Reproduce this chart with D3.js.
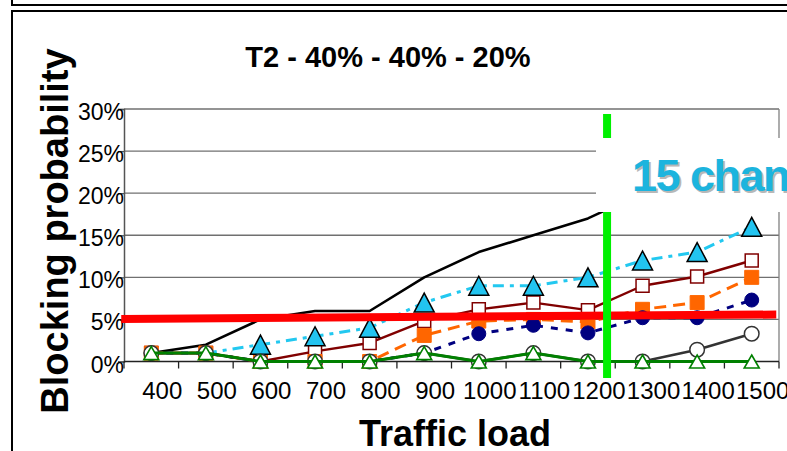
<!DOCTYPE html>
<html>
<head>
<meta charset="utf-8">
<script src="https://cdn.jsdelivr.net/npm/d3@7"></script>
<style>
  html, body { margin: 0; padding: 0; background: #fff; }
  svg { display: block; }
  text { font-family: "Liberation Sans", Arial, sans-serif; }
</style>
</head>
<body>
<svg id="chart" width="787" height="451"></svg>
<script>
// Traffic load categories and axis ticks
const loads = [400, 500, 600, 700, 800, 900, 1000, 1100, 1200, 1300, 1400, 1500];
const yTicks = [0, 5, 10, 15, 20, 25, 30];

// Blocking probability (%) per traffic load
const blockingTotal   = [1, 2, 5, 6, 6, 10, 13, 15, 17, 20, 22, 24];
const blockingCyan    = [null, 1, 2, 3, 4, 7, 9, 9, 10, 12, 13, 16];
const blockingMaroon  = [1, 1, 0, 1.2, 2.2, 4.8, 6.2, 7, 6.1, 9, 10.1, 12];
const blockingOrange  = [1, 1, 0, 0, 0, 3.1, 4.8, 5, 4.7, 6.2, 7, 10];
const blockingNavy    = [1, 1, 0, 0, 0, 1, 3.3, 4.3, 3.4, 5.2, 5.2, 7.3];
const blockingGrey    = [1, 1, 0, 0, 0, 1, 0, 1, 0, 0, 1.4, 3.3];
const blockingGreen   = [1, 1, 0, 0, 0, 1, 0, 1, 0, 0, 0, 0];
// loads where the cyan series carries no marker
const cyanNoMarker = [400, 500];

// 5% blocking target line (load, %) and the 15-channel capacity marker
const targetLine = [{ load: 345, pct: 5.05 }, { load: 1545, pct: 5.58 }];
const capacityLoad = 1235;
const capacityLabel = "15 channels";
const titleText = "T2 - 40% - 40% - 20%";
const xTitle = "Traffic load";
const yTitle = "Blocking probability";

const svg = d3.select("#chart");
const plot = { left: 124, right: 779, top: 109, bottom: 361.5 };

const x = d3.scaleBand().domain(loads).range([plot.left, plot.right]).padding(0);
const xc = d => x(d) + x.bandwidth() / 2;
const xLin = d3.scaleLinear().domain([400, 1500]).range([xc(400), xc(1500)]);
const y = d3.scaleLinear().domain([0, 30]).range([plot.bottom, plot.top]);

// outer frames
svg.append("path").attr("d", "M12,0V5H787").attr("fill", "none")
  .attr("stroke", "#000").attr("stroke-width", 2);
svg.append("path").attr("d", "M12,451V11H787").attr("fill", "none")
  .attr("stroke", "#000").attr("stroke-width", 2);

// title
svg.append("text").attr("x", 388).attr("y", 67).attr("text-anchor", "middle")
  .attr("font-size", 29).attr("font-weight", "bold").text(titleText);

// horizontal gridlines
svg.append("g").selectAll("line").data(yTicks.filter(d => d > 0)).join("line")
  .attr("x1", plot.left).attr("x2", plot.right)
  .attr("y1", d => y(d)).attr("y2", d => y(d))
  .attr("stroke", "#707070").attr("stroke-width", 1.3);

// right border of plot area
svg.append("line").attr("x1", plot.right).attr("x2", plot.right)
  .attr("y1", plot.top).attr("y2", plot.bottom)
  .attr("stroke", "#808080").attr("stroke-width", 1.3);

// y axis
const yAxis = svg.append("g").attr("transform", `translate(${plot.left},0)`)
  .call(d3.axisLeft(y).tickValues(yTicks).tickSize(6).tickPadding(0).tickFormat(d => d + "%"));
yAxis.select(".domain").attr("stroke", "#555").attr("stroke-width", 1.5);
yAxis.selectAll(".tick line").attr("stroke", "#555").attr("stroke-width", 1.3);
yAxis.selectAll(".tick text").attr("x", 0).attr("dy", "10.5px")
  .attr("font-size", 23).attr("font-family", "Liberation Sans, Arial, sans-serif").attr("fill", "#000");

// x axis: baseline, boundary ticks, labels
svg.append("line").attr("x1", plot.left).attr("x2", plot.right)
  .attr("y1", plot.bottom).attr("y2", plot.bottom)
  .attr("stroke", "#222").attr("stroke-width", 1.5);
const boundaries = loads.map(l => x(l)).concat([plot.right]);
svg.append("g").selectAll("line").data(boundaries).join("line")
  .attr("x1", d => d).attr("x2", d => d)
  .attr("y1", plot.bottom).attr("y2", plot.bottom + 7)
  .attr("stroke", "#222").attr("stroke-width", 1.3);
svg.append("g").selectAll("text").data(loads).join("text")
  .attr("x", d => xc(d) + 11).attr("y", 398.5).attr("text-anchor", "middle")
  .attr("font-size", 24).text(d => d);

// axis titles
svg.append("text").attr("x", 455).attr("y", 446).attr("text-anchor", "middle")
  .attr("font-size", 36).attr("font-weight", "bold").text(xTitle);
svg.append("text").attr("transform", "translate(68,231) rotate(-90)")
  .attr("text-anchor", "middle").attr("font-size", 38).attr("font-weight", "bold").text(yTitle);

// series definitions
const triangle = (w, h) => `M0,${-h / 2}L${w / 2},${h / 2}L${-w / 2},${h / 2}Z`;
const square = s => `M${-s / 2},${-s / 2}h${s}v${s}h${-s}Z`;
const circle = r => `M${r},0A${r},${r} 0 1,1 ${-r},0A${r},${r} 0 1,1 ${r},0Z`;

const series = [
  { values: blockingTotal, stroke: "#000", width: 2.6, dash: null, marker: null },
  { values: blockingMaroon, stroke: "#800000", width: 2.4, dash: null,
    marker: { path: square(13), fill: "#fff", stroke: "#800000", sw: 1.5 } },
  { values: blockingOrange, stroke: "#ff6600", width: 3, dash: "12,7",
    marker: { path: square(14), fill: "#ff6600", stroke: "#ff6600", sw: 1 } },
  { values: blockingNavy, stroke: "#000080", width: 3, dash: "7,8",
    marker: { path: circle(7), fill: "#000080", stroke: "#000080", sw: 1 } },
  { values: blockingCyan, stroke: "#22c8f0", width: 3, dash: "11,6,4,6",
    marker: { path: triangle(20, 19), fill: "#22c4f0", stroke: "#000", sw: 1.5 }, skip: cyanNoMarker },
  { values: blockingGrey, stroke: "#333", width: 2.6, dash: null,
    marker: { path: circle(7.3), fill: "#fff", stroke: "#333", sw: 1.5 } },
  { values: blockingGreen, stroke: "#008000", width: 3, dash: null,
    marker: { path: triangle(15, 13), fill: "#fff", stroke: "#008000", sw: 1.6 } }
];

const line = d3.line()
  .defined(d => d.v !== null)
  .x(d => xc(d.load)).y(d => y(d.v));

series.forEach(s => {
  const pts = loads.map((load, i) => ({ load, v: s.values[i] }));
  svg.append("path").datum(pts).attr("d", line)
    .attr("fill", "none").attr("stroke", s.stroke).attr("stroke-width", s.width)
    .attr("stroke-dasharray", s.dash).attr("stroke-linejoin", "round");
  if (s.marker) {
    const skip = s.skip || [];
    svg.append("g").selectAll("path")
      .data(pts.filter(d => d.v !== null && !skip.includes(d.load))).join("path")
      .attr("transform", d => `translate(${xc(d.load)},${y(d.v)})`)
      .attr("d", s.marker.path).attr("fill", s.marker.fill)
      .attr("stroke", s.marker.stroke).attr("stroke-width", s.marker.sw);
  }
});

// 5% target line
svg.append("path").datum(targetLine)
  .attr("d", d3.line().x(d => xLin(d.load)).y(d => y(d.pct)))
  .attr("stroke", "#ff0000").attr("stroke-width", 8).attr("fill", "none");

// capacity marker
svg.append("line").attr("x1", xLin(capacityLoad)).attr("x2", xLin(capacityLoad))
  .attr("y1", 114).attr("y2", 378)
  .attr("stroke", "#00f000").attr("stroke-width", 8);

// capacity callout box
svg.append("rect").attr("x", 596).attr("y", 138).attr("width", 200).attr("height", 74)
  .attr("fill", "#fff");
const callout = svg.append("g").attr("font-family", "'Open Sans', 'Noto Sans', sans-serif")
  .attr("font-weight", "bold").attr("font-size", 45).attr("letter-spacing", "-1.5px");
callout.append("text").attr("x", 634).attr("y", 193).attr("fill", "#b8b8b8").text(capacityLabel);
callout.append("text").attr("x", 632).attr("y", 191).attr("fill", "#1cb4de").text(capacityLabel);
</script>
</body>
</html>
